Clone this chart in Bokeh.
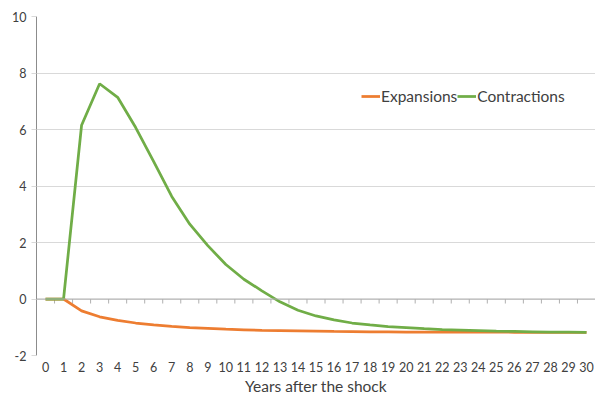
from bokeh.plotting import figure
from bokeh.models import FixedTicker, Span, Legend, LegendItem, Range1d
from bokeh.embed import file_html
from bokeh.resources import INLINE

years = list(range(0, 31))
expansions = [0, 0, -0.42, -0.63, -0.76, -0.85, -0.92, -0.97, -1.01, -1.04, -1.07,
              -1.09, -1.11, -1.12, -1.13, -1.14, -1.15, -1.155, -1.16, -1.165, -1.17,
              -1.17, -1.172, -1.174, -1.175, -1.176, -1.177, -1.178, -1.179, -1.18, -1.18]
contractions = [0, 0, 6.15, 7.62, 7.14, 6.07, 4.86, 3.63, 2.65, 1.89, 1.22,
                0.70, 0.29, -0.10, -0.40, -0.60, -0.74, -0.85, -0.92, -0.98, -1.01,
                -1.05, -1.08, -1.10, -1.12, -1.14, -1.15, -1.16, -1.17, -1.175, -1.18]
y_ticks = [-2, 0, 2, 4, 6, 8, 10]
x_label = "Years after the shock"

FONT = "Lato"

p = figure(width=595, height=397, output_backend="svg", toolbar_location=None,
           x_range=Range1d(-0.5, 30.5), y_range=Range1d(-2, 10),
           min_border_left=36, min_border_top=16, min_border_bottom=40, min_border_right=0)
p.outline_line_color = None
p.background_fill_color = "white"

# grid
p.xgrid.visible = False
p.ygrid.ticker = FixedTicker(ticks=y_ticks)
p.ygrid.grid_line_color = "#d9d9d9"
p.ygrid.grid_line_width = 1

# y axis
p.yaxis.ticker = FixedTicker(ticks=y_ticks)
p.yaxis.major_label_overrides = {t: str(t) for t in y_ticks}
p.yaxis.axis_line_color = "#8c8c8c"
p.yaxis.major_tick_line_color = "#d9d9d9"
p.yaxis.major_tick_out = 5
p.yaxis.major_tick_in = 0
p.yaxis.minor_tick_line_color = None
p.yaxis.major_label_text_font = FONT
p.yaxis.major_label_text_font_size = "12.5px"
p.yaxis.major_label_text_color = "#404040"
p.yaxis.major_label_standoff = 5

# x axis (labels at bottom)
p.xaxis.ticker = FixedTicker(ticks=years)
p.xaxis.axis_line_color = None
p.xaxis.major_tick_line_color = None
p.xaxis.minor_tick_line_color = None
p.xaxis.major_tick_out = 0
p.xaxis.major_tick_in = 0
p.xaxis.major_label_text_font = FONT
p.xaxis.major_label_text_font_size = "12.5px"
p.xaxis.major_label_text_color = "#404040"
p.xaxis.major_label_standoff = 6
p.xaxis.axis_label = x_label
p.xaxis.axis_label_text_font = FONT
p.xaxis.axis_label_text_font_style = "normal"
p.xaxis.axis_label_text_font_size = "15.5px"
p.xaxis.axis_label_text_color = "#404040"
p.xaxis.axis_label_standoff = 2

# zero axis line with category-boundary ticks
p.add_layout(Span(location=0, dimension="width", line_color="#b0b0b0", line_width=1))
tick_x = [y + 0.5 for y in years[:-1]]
p.segment(x0=tick_x, y0=[0] * len(tick_x), x1=tick_x, y1=[-0.16] * len(tick_x),
          line_color="#b0b0b0", line_width=1)

r_exp = p.line(years, expansions, line_color="#ED7D31", line_width=2.75)
r_con = p.line(years, contractions, line_color="#70AD47", line_width=2.75)

legend = Legend(items=[LegendItem(label="Expansions", renderers=[r_exp]),
                       LegendItem(label="Contractions", renderers=[r_con])],
                orientation="horizontal", location=(325, 249),
                border_line_color=None, background_fill_alpha=0,
                label_text_font=FONT, label_text_font_size="15.5px",
                label_text_color="#404040", glyph_width=19, label_standoff=1,
                spacing=0, padding=0, margin=0)
p.add_layout(legend, "center")

open("out.html", "w").write(file_html(p, INLINE))
